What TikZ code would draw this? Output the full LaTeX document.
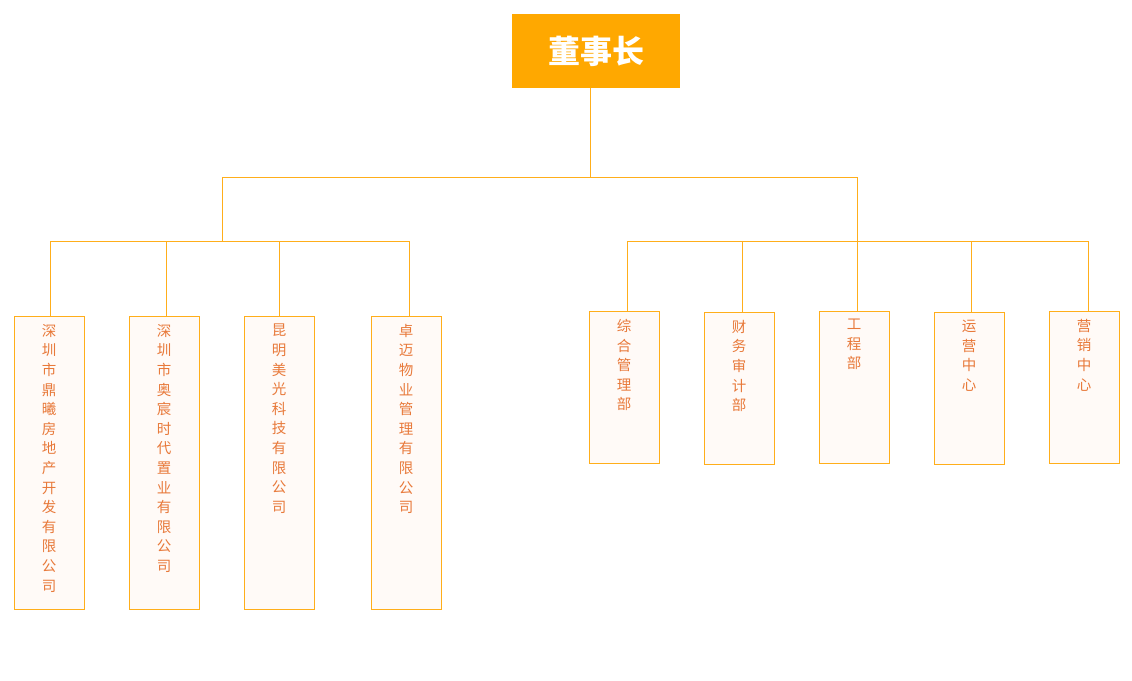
\documentclass[tikz,border=0pt]{standalone}
\usepackage{fontspec}
\setmainfont{Noto Sans CJK SC}
\begin{document}
\begin{tikzpicture}[x=1pt,y=-1pt,
  ln/.style={draw=lineor,line width=0.8pt},
  unit/.style={draw=lineor,fill=boxfill,line width=0.8pt,minimum width=70pt,anchor=north,inner sep=0pt},
  txt/.style={anchor=north,text=txtor,align=center,font=\fontsize{14.5}{19.6}\selectfont,inner sep=0pt}]
\definecolor{lineor}{HTML}{FFAE1A}
\definecolor{boxfill}{HTML}{FFFAF7}
\definecolor{txtor}{HTML}{E8793A}
\definecolor{rootor}{HTML}{FFA800}
\useasboundingbox (0,0) rectangle (1132,680);
\node[fill=rootor,minimum width=168pt,minimum height=74pt,inner sep=0pt,text=white,font=\fontsize{32}{36}\selectfont\bfseries] (root) at (596,51) {董事长};
\newcommand\unitbox[6]{%
  \node[unit,minimum height=#4pt] (#1) at (#2,#3) {};
  \node[txt] (#1t) at (#2,#3+8) {#5};
  \coordinate (#1top) at (#6,#3);
}
\unitbox{a}{49}{316}{293}{深\\圳\\市\\鼎\\曦\\房\\地\\产\\开\\发\\有\\限\\公\\司}{50}
\unitbox{b}{164}{316}{293}{深\\圳\\市\\奥\\宸\\时\\代\\置\\业\\有\\限\\公\\司}{166}
\unitbox{c}{279}{316}{293}{昆\\明\\美\\光\\科\\技\\有\\限\\公\\司}{279}
\unitbox{d}{406}{316}{293}{卓\\迈\\物\\业\\管\\理\\有\\限\\公\\司}{409}
\unitbox{e}{624}{311}{152}{综\\合\\管\\理\\部}{627}
\unitbox{f}{739}{312}{152}{财\\务\\审\\计\\部}{742}
\unitbox{g}{854}{311}{152}{工\\程\\部}{857}
\unitbox{h}{969}{312}{152}{运\\营\\中\\心}{971}
\unitbox{i}{1084}{311}{152}{营\\销\\中\\心}{1088}
\coordinate (j0) at (590,177);
\coordinate (jl) at (222,177);
\coordinate (jr) at (857,177);
\coordinate (bl) at (222,241);
\coordinate (br) at (857,241);
\draw[ln] (root.south -| j0) -- (j0);
\draw[ln] (bl) -- (jl) -- (jr) -- (br);
\draw[ln] (atop) -- (50,241) -- (409,241) -- (dtop);
\draw[ln] (btop) -- (166,241);
\draw[ln] (ctop) -- (279,241);
\draw[ln] (etop) -- (627,241) -- (1088,241) -- (itop);
\draw[ln] (ftop) -- (742,241);
\draw[ln] (gtop) -- (857,241);
\draw[ln] (htop) -- (971,241);
\end{tikzpicture}
\end{document}
